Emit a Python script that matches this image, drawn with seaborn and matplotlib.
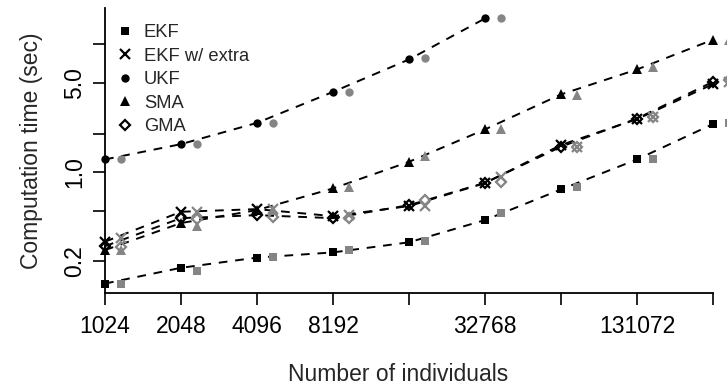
import matplotlib
matplotlib.use("Agg")
import matplotlib.pyplot as plt
from matplotlib.lines import Line2D
import seaborn as sns
import pandas as pd
import numpy as np

# ---- data ----
n_individuals = [1024, 2048, 4096, 8192, 16384, 32768, 65536, 131072, 262144]
methods = ["EKF", "EKF w/ extra", "UKF", "SMA", "GMA"]

ekf = [0.134, 0.178, 0.214, 0.235, 0.282, 0.421, 0.732, 1.257, 2.38]
ekf_extra = [0.285, 0.489, 0.513, 0.452, 0.542, 0.82, 1.63, 2.60, 4.89]
ukf = [1.257, 1.656, 2.43, 4.25, 7.63, 15.98]
sma = [0.245, 0.399, 0.504, 0.745, 1.204, 2.16, 4.06, 6.37, 10.9]
gma = [0.263, 0.436, 0.46, 0.436, 0.551, 0.824, 1.58, 2.63, 5.1]

ekf_g = [0.133, 0.169, 0.215, 0.245, 0.29, 0.475, 0.759, 1.257, 2.41]
ekf_extra_g = [0.303, 0.489, 0.513, 0.46, 0.542, 0.919, 1.58, 2.68, 5.1]
ukf_g = [1.257, 1.656, 2.43, 4.25, 7.77, 15.98]
sma_g = [0.245, 0.378, 0.504, 0.759, 1.335, 2.16, 4.01, 6.68, 10.9]
gma_g = [0.26, 0.426, 0.442, 0.434, 0.6035, 0.84, 1.58, 2.71, 5.25]

x_tick_labels = ["1024", "2048", "4096", "8192", "", "32768", "", "131072", ""]
y_ticks = [0.2, 0.5, 1.0, 2.0, 5.0, 10.0]
y_tick_labels = ["0.2", "", "1.0", "", "5.0", ""]

black_series = [ekf, ekf_extra, ukf, sma, gma]
gray_series = [ekf_g, ekf_extra_g, ukf_g, sma_g, gma_g]

# ---- style ----
sns.set_style("ticks")
plt.rcParams["font.family"] = ["Liberation Sans", "DejaVu Sans"]

marker_styles = {
    "EKF": dict(marker="s", ms=6.0, filled=True, mew=0.0),
    "EKF w/ extra": dict(marker="x", ms=6.5, filled=True, mew=1.6),
    "UKF": dict(marker="o", ms=6.0, filled=True, mew=0.0),
    "SMA": dict(marker="^", ms=7.2, filled=True, mew=0.0),
    "GMA": dict(marker="D", ms=5.2, filled=False, mew=1.6),
}

fig = plt.figure(figsize=(7.27, 3.90), dpi=100)
ax = fig.add_axes([105 / 727, 1 - 293 / 390, (713 - 105) / 727, (293 - 8) / 390])

GRAY = "#858585"
offset = 1.155

for name, yb, yg in zip(methods, black_series, gray_series):
    st = marker_styles[name]
    xs = n_individuals[:len(yb)]
    df_b = pd.DataFrame({"n": xs, "t": yb})
    df_g = pd.DataFrame({"n": [v * offset for v in xs], "t": yg})
    # dashed connecting line
    sns.lineplot(data=df_b, x="n", y="t", ax=ax, color="black", lw=1.4,
                 dashes=False, linestyle=(0, (4.5, 4)), estimator=None,
                 sort=False, legend=False, clip_on=False)
    for df, col in ((df_b, "black"), (df_g, GRAY)):
        if st["filled"]:
            kw = dict(mfc=col, mec=col)
        else:
            kw = dict(mfc="none", mec=col)
        ax.plot(df["n"], df["t"], linestyle="none", marker=st["marker"],
                ms=st["ms"], mew=st["mew"], clip_on=False, zorder=3, **kw)

ax.set_xscale("log", base=2)
ax.set_yscale("log")
ax.set_xlim(1024, 262144)
ax.set_ylim(0.113, 19.3)

ax.set_xticks(n_individuals)
ax.set_xticklabels(x_tick_labels)
ax.xaxis.set_minor_locator(matplotlib.ticker.NullLocator())
ax.set_yticks(y_ticks)
ax.set_yticklabels(y_tick_labels, rotation=90, va="center")
ax.yaxis.set_minor_locator(matplotlib.ticker.NullLocator())

ax.tick_params(axis="both", which="major", length=8.6, width=1.2,
               labelsize=16.5, color="black", labelcolor="black", pad=5)
ax.tick_params(axis="x", pad=7)

for s in ["top", "right"]:
    ax.spines[s].set_visible(False)
for s in ["left", "bottom"]:
    ax.spines[s].set_linewidth(1.3)
    ax.spines[s].set_color("black")

ax.set_xlabel("Number of individuals", fontsize=16.5)
ax.set_ylabel("Computation time (sec)", fontsize=16.5)
ax.xaxis.set_label_coords(0.482, -0.245)
ax.yaxis.set_label_coords(-0.102, 0.5)

handles = []
for name in methods:
    st = marker_styles[name]
    if st["filled"]:
        h = Line2D([], [], linestyle="none", marker=st["marker"], ms=st["ms"],
                   mew=st["mew"], mfc="black", mec="black")
    else:
        h = Line2D([], [], linestyle="none", marker=st["marker"], ms=st["ms"],
                   mew=st["mew"], mfc="none", mec="black")
    handles.append(h)
ax.legend(handles, methods, loc="upper left", bbox_to_anchor=(-0.007, 0.995),
          frameon=False, fontsize=13.2, handlelength=1.0, handletextpad=0.55,
          labelspacing=0.36, borderaxespad=0.4)

fig.savefig("out.png", dpi=100)
